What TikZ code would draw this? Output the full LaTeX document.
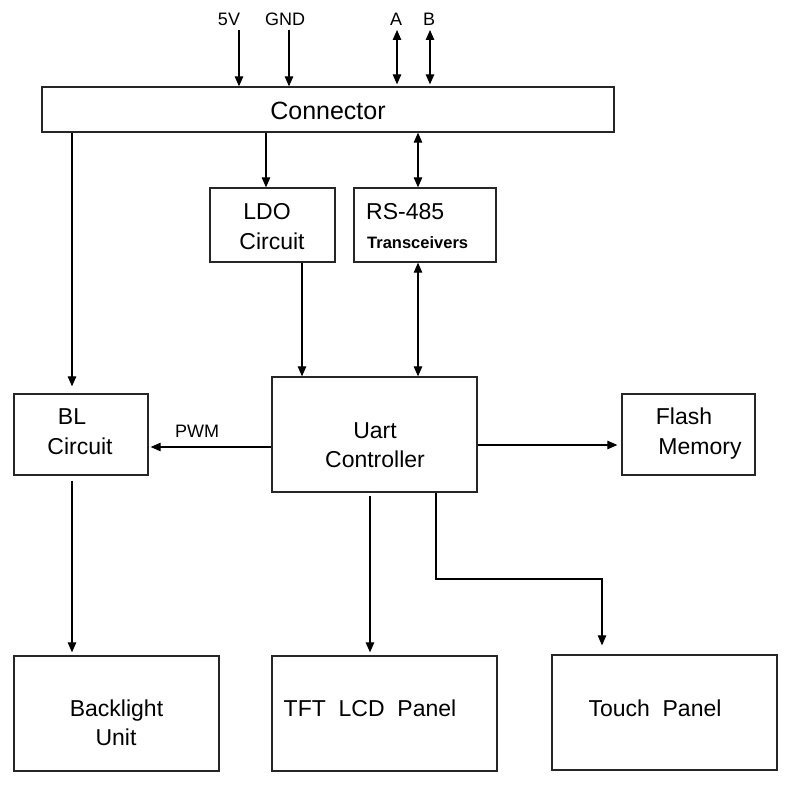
\documentclass[tikz,border=0pt]{standalone}
\usepackage{fontspec}
\setmainfont{Liberation Sans}
\usetikzlibrary{arrows.meta}
\begin{document}
\begin{tikzpicture}[x=1pt,y=-1pt,
  box/.style={draw=black!85,line width=1.3pt,minimum width=#1,inner sep=0pt},
  txt/.style={anchor=base,inner sep=0pt,font=\fontsize{23}{28}\selectfont},
  small/.style={anchor=base,inner sep=0pt,font=\fontsize{18}{22}\selectfont},
  arr/.style={line width=1.1pt,-{Triangle[length=10pt,width=8.5pt]}},
  darr/.style={line width=1.1pt,{Triangle[length=10pt,width=8.5pt]}-{Triangle[length=10pt,width=8.5pt]}}]
\useasboundingbox (0,0) rectangle (802,792);
% boxes
\node[box=572pt,minimum height=45pt] (conn) at (328,109.5) {};
\node[box=125pt,minimum height=74pt] (ldo) at (272.5,225) {};
\node[box=142pt,minimum height=74pt] (rs) at (425,225) {};
\node[box=205pt,minimum height=115pt] (uart) at (374.5,434.5) {};
\node[box=134pt,minimum height=81pt] (bl) at (81,434.5) {};
\node[box=133pt,minimum height=81pt] (flash) at (688.5,434.5) {};
\node[box=205pt,minimum height=115pt] (back) at (116.5,713.5) {};
\node[box=225pt,minimum height=115pt] (tft) at (384.5,713.5) {};
\node[box=225pt,minimum height=115pt] (touch) at (664.5,712.5) {};
% texts
\node[txt,font=\fontsize{25}{30}\selectfont] (connT) at (328,119) {Connector};
\node[small] (t5v) at (229,26) {5V};
\node[small] (tgnd) at (285,26) {GND};
\node[small] (ta) at (396,26) {A};
\node[small] (tb) at (429,26) {B};
\node[txt] (ldoT1) at (267,219) {LDO};
\node[txt] (ldoT2) at (272,249) {Circuit};
\node[txt,anchor=base west] (rsT1) at (366,219) {RS-485};
\node[txt,anchor=base west,font=\fontsize{16.5}{20}\bfseries] (rsT2) at (367,248) {Transceivers};
\node[txt] (uartT1) at (375,438) {Uart};
\node[txt] (uartT2) at (375,467) {Controller};
\node[txt] (blT1) at (72,424) {BL};
\node[txt] (blT2) at (80,454) {Circuit};
\node[txt] (flashT1) at (684,424) {Flash};
\node[txt] (flashT2) at (700,454) {Memory};
\node[txt] (backT1) at (116.5,716) {Backlight};
\node[txt] (backT2) at (116,745) {Unit};
\node[txt] (tftT) at (370,716) {TFT\ \ LCD\ \ Panel};
\node[txt] (touchT) at (655,716) {Touch\ \ Panel};
\node[small] (pwm) at (197,437) {PWM};
% coordinates
\coordinate (x5v) at (239,30);
\coordinate (xgnd) at (289,30);
\coordinate (xa) at (397,30);
\coordinate (xb) at (430,30);
\coordinate (xldo) at (266,0);
\coordinate (xrs) at (418,0);
\coordinate (xbl) at (72,0);
\coordinate (xldou) at (302,0);
\coordinate (xtft) at (370,0);
\coordinate (xtouch1) at (436,579);
\coordinate (xtouch2) at (602,579);
\coordinate (ypwm) at (0,447);
\coordinate (yflash) at (0,445);
% connectors
\draw[arr] (x5v) -- (x5v |- conn.north);
\draw[arr] (xgnd) -- (xgnd |- conn.north);
\draw[darr,shorten >=2pt] (xa) -- (xa |- conn.north);
\draw[darr,shorten >=2pt] (xb) -- (xb |- conn.north);
\draw[arr] (xldo |- conn.south) -- (xldo |- ldo.north);
\draw[darr] (xrs |- conn.south) -- (xrs |- rs.north);
\draw[arr,shorten >=7pt] (xbl |- conn.south) -- (xbl |- bl.north);
\draw[arr] (xldou |- ldo.south) -- (xldou |- uart.north);
\draw[darr] (xrs |- rs.south) -- (xrs |- uart.north);
\draw[arr,shorten >=2pt] (uart.west |- ypwm) -- (bl.east |- ypwm);
\draw[arr,shorten >=4pt] (uart.east |- yflash) -- (flash.west |- yflash);
\draw[arr,shorten <=5pt,shorten >=3pt] (xbl |- bl.south) -- (xbl |- back.north);
\draw[arr,shorten <=3pt,shorten >=3pt] (xtft |- uart.south) -- (xtft |- tft.north);
\draw[arr,shorten >=9pt] (xtouch1 |- uart.south) -- (xtouch1) -- (xtouch2) -- (xtouch2 |- touch.north);
\end{tikzpicture}
\end{document}
